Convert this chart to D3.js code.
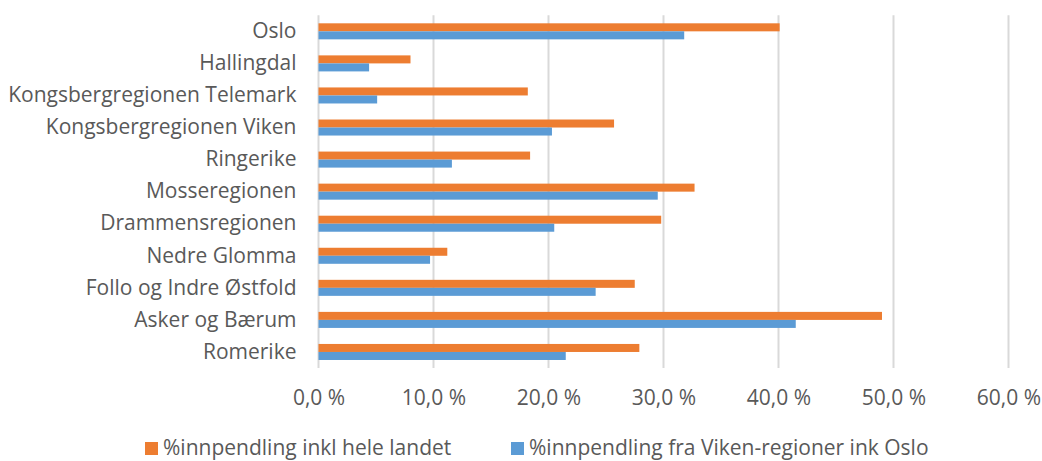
<!DOCTYPE html>
<html>
<head>
<meta charset="utf-8">
<script src="https://cdn.jsdelivr.net/npm/d3@7"></script>
<style>
  html, body { margin: 0; padding: 0; background: #fff; }
  svg text { font-family: "Open Sans", "DejaVu Sans", sans-serif; fill: #595959; }
</style>
</head>
<body>
<svg id="chart" width="1042" height="461"></svg>
<script>
// Regions, listed top to bottom as they appear on the chart
const regions = [
  "Oslo", "Hallingdal", "Kongsbergregionen Telemark", "Kongsbergregionen Viken",
  "Ringerike", "Mosseregionen", "Drammensregionen", "Nedre Glomma",
  "Follo og Indre Østfold", "Asker og Bærum", "Romerike"
];
// Share of in-commuting (%), whole country
const innpendlingHeleLandet = [40.1, 8.0, 18.2, 25.7, 18.4, 32.7, 29.8, 11.2, 27.5, 49.0, 27.9];
// Share of in-commuting (%), from Viken regions incl. Oslo
const innpendlingViken = [31.8, 4.4, 5.1, 20.3, 11.6, 29.5, 20.5, 9.7, 24.1, 41.5, 21.5];
const seriesNames = ["%innpendling inkl hele landet", "%innpendling fra Viken-regioner ink Oslo"];
const seriesColors = ["#ED7D31", "#5B9BD5"];
const xTicks = [0, 10, 20, 30, 40, 50, 60];

const svg = d3.select("#chart");
const plot = { left: 318.5, right: 1008.5, top: 15.3, bottom: 368 };
const fontSize = "21px";

const x = d3.scaleLinear().domain([0, 60]).range([plot.left, plot.right]);
const y = d3.scaleBand().domain(regions).range([plot.top, plot.bottom]).paddingInner(0.5).paddingOuter(0.25);
const sub = d3.scaleBand().domain([0, 1]).range([0, y.bandwidth()]);

// vertical gridlines
svg.append("g")
  .selectAll("line")
  .data(xTicks)
  .join("line")
  .attr("x1", d => x(d)).attr("x2", d => x(d))
  .attr("y1", plot.top).attr("y2", plot.bottom)
  .attr("stroke", "#d9d9d9")
  .attr("stroke-width", 2);

// x axis labels
const fmt = d => d.toFixed(1).replace(".", ",") + " %";
const xAxis = d3.axisBottom(x).tickValues(xTicks).tickFormat(fmt).tickSize(0).tickPadding(0);
const gx = svg.append("g").attr("transform", `translate(0, ${plot.bottom + 22})`).call(xAxis);
gx.select(".domain").remove();
gx.selectAll("text")
  .attr("dy", null).attr("y", 15)
  .style("font-family", "'Open Sans', sans-serif")
  .style("font-size", fontSize)
  .attr("fill", "#595959");

// category labels
const yAxis = d3.axisLeft(y).tickSize(0).tickPadding(0);
const gy = svg.append("g").attr("transform", `translate(${plot.left - 22}, 0)`).call(yAxis);
gy.select(".domain").remove();
gy.selectAll("text")
  .style("font-family", "'Open Sans', sans-serif")
  .style("font-size", fontSize)
  .attr("fill", "#595959");

// bars
const series = [innpendlingHeleLandet, innpendlingViken];
series.forEach((vals, si) => {
  svg.append("g")
    .selectAll("rect")
    .data(regions.map((r, i) => ({ region: r, value: vals[i] })))
    .join("rect")
    .attr("x", x(0))
    .attr("y", d => y(d.region) + sub(si))
    .attr("width", d => x(d.value) - x(0))
    .attr("height", sub.bandwidth())
    .attr("fill", seriesColors[si]);
});

// legend
const legendX = [145, 511];
const legend = svg.append("g");
seriesNames.forEach((name, i) => {
  legend.append("rect")
    .attr("x", legendX[i]).attr("y", 442)
    .attr("width", 13).attr("height", 13)
    .attr("fill", seriesColors[i]);
  legend.append("text")
    .attr("x", legendX[i] + 18).attr("y", 455)
    .style("font-size", fontSize)
    .text(name);
});
</script>
</body>
</html>
